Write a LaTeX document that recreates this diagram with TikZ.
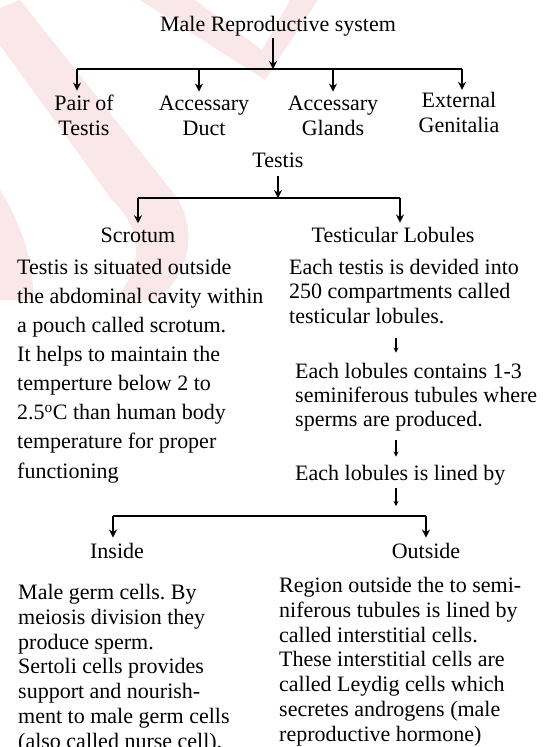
\documentclass[tikz,border=0pt]{standalone}
\usepackage{fontspec}
\setmainfont{Liberation Serif}
\usetikzlibrary{arrows.meta, positioning}
\definecolor{wmpink}{RGB}{249,231,233}
\frenchspacing

\begin{document}
\begin{tikzpicture}[
        x=1pt, y=-1pt,
        every node/.style={inner sep=0pt, font=\fontsize{22}{24.7}\selectfont},
        head/.style={align=center, anchor=base},
        para/.style={align=left, anchor=base west},
        arr/.style={-{Stealth[length=8pt, width=8pt]}, line width=1.6pt},
        small arr/.style={-{Stealth[length=5pt, width=5pt]}, line width=1.1pt},
        bar/.style={line width=1.6pt},
    ]
    \useasboundingbox (0,0) rectangle (542,747);
    \clip (0,0) rectangle (542,747);

    % faint watermark
    \fill [wmpink] (0,8) -- (20,0) -- (175,195) .. controls (200,232) and (188,275) .. (157,300)
        -- (114,300) .. controls (142,270) and (146,232) .. (112,200) -- (0,45) -- cycle;
    \fill [wmpink] (140,0) -- (195,0) -- (262,50) -- (290,0) -- (318,0) -- (265,80) -- cycle;
    \fill [wmpink] (0,190) .. controls (22,225) and (34,262) .. (33,300) -- (0,300) -- cycle;

    % (base = baseline of the last line)
    \node (male)    [head] at (278,31)  {Male Reproductive system};
    \node (pair)    [head] at (84,135)  {Pair of\\Testis};
    \node (duct)    [head] at (204,135) {Accessary\\Duct};
    \node (glands)  [head] at (333,135) {Accessary\\Glands};
    \node (ext)     [head] at (459,132) {External\\Genitalia};
    \node (testis)  [head] at (278,167) {Testis};
    \node (scrotum) [head] at (138,242) {Scrotum};
    \node (lobules) [head] at (393,242) {Testicular Lobules};

    \node (scrtext) [para, font=\fontsize{22}{29.1}\selectfont] at (17,478)
        {Testis is situated outside\\the abdominal cavity within\\a pouch called scrotum.\\It helps to maintain the\\temperture below 2 to\\2.5\textsuperscript{o}C than human body\\temperature for proper\\functioning};
    \node (lobtext) [para, font=\fontsize{22}{24.5}\selectfont] at (289,323)
        {Each testis is devided into\\250 compartments called\\testicular lobules.};
    \node (tubtext) [para, font=\fontsize{22}{24}\selectfont] at (295,426)
        {Each lobules contains 1-3\\seminiferous tubules where\\sperms are produced.};
    \node (lined)   [para] at (295,480) {Each lobules is lined by};

    \node (inside)  [head] at (117,558) {Inside};
    \node (outside) [head] at (426,558) {Outside};
    \node (intext)  [para] at (18,748)
        {Male germ cells. By\\meiosis division they\\produce sperm.\\Sertoli cells provides\\support and nourish-\\ment to male germ cells\\(also called nurse cell).};
    \node (outtext) [para] at (279,741)
        {Region outside the to semi-\\niferous tubules is lined by\\called interstitial cells.\\These interstitial cells are\\called Leydig cells which\\secretes androgens (male\\reproductive hormone)};

    \coordinate (b1) at (273,69);
    \coordinate (b2) at (278,198);
    \coordinate (b3) at (113,516);
    \coordinate (mid) at (396,0);

    % first level
    \draw [arr, shorten <=2pt] (male.south -| b1) -- (b1);
    \draw [bar] ([xshift=-7pt]pair.north |- b1) -- ([xshift=3pt]ext.north |- b1);
    \draw [arr, shorten >=4pt] ([xshift=-7pt]pair.north |- b1) -- ([xshift=-7pt]pair.north);
    \draw [arr, shorten >=4pt] ([xshift=-5pt]duct.north |- b1) -- ([xshift=-5pt]duct.north);
    \draw [arr, shorten >=4pt] (glands.north |- b1) -- (glands.north);
    \draw [arr, shorten >=2pt] ([xshift=3pt]ext.north |- b1) -- ([xshift=3pt]ext.north);

    % testis
    \draw [arr, shorten <=9pt] (testis.south -| b2) -- (b2);
    \draw [bar] (scrotum.north |- b2) -- ([xshift=7pt]lobules.north |- b2);
    \draw [arr, shorten >=4pt] (scrotum.north |- b2) -- (scrotum.north);
    \draw [arr, shorten >=4pt] ([xshift=7pt]lobules.north |- b2) -- ([xshift=7pt]lobules.north);

    % lobules chain
    \draw [small arr, shorten <=14pt, shorten >=10pt] (lobtext.south -| mid) -- (tubtext.north -| mid);
    \draw [small arr, shorten <=9pt, shorten >=8pt] (tubtext.south -| mid) -- (lined.north -| mid);
    \draw [small arr, shorten <=3pt, shorten >=10pt] (lined.south -| mid) -- (b3 -| mid);

    % inside / outside
    \draw [bar] (b3) -- (outside.north |- b3);
    \draw [arr, shorten >=5pt] (b3) -- (b3 |- inside.north);
    \draw [arr, shorten >=5pt] (outside.north |- b3) -- (outside.north);

\end{tikzpicture}
\end{document}
